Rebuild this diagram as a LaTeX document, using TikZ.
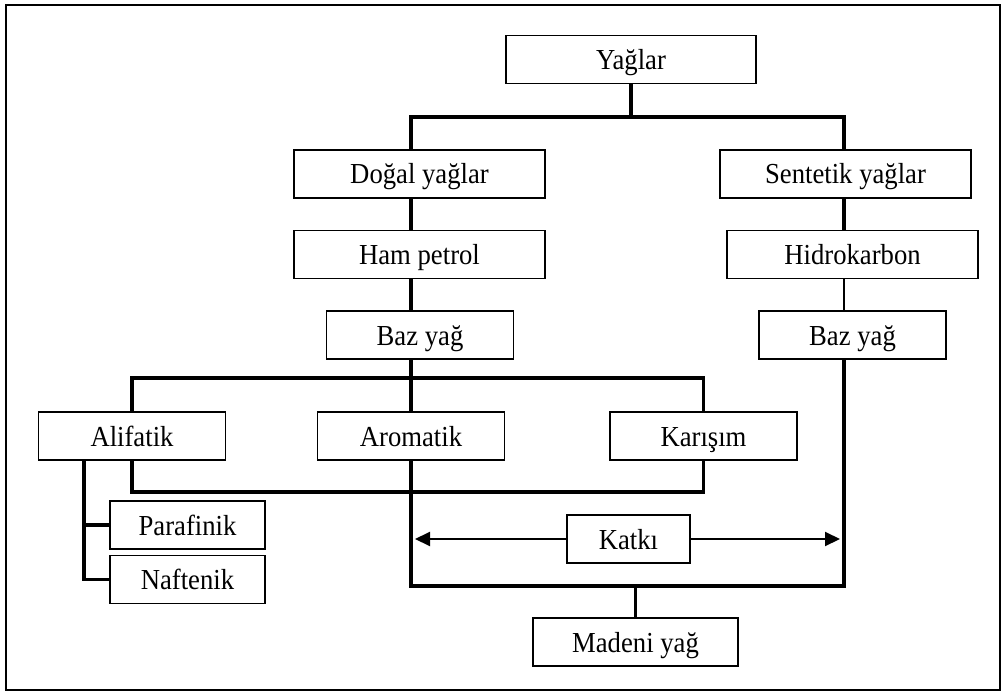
\documentclass[tikz,border=0pt]{standalone}
\usepackage{fontspec}
\setmainfont{Liberation Serif}[FakeStretch=0.92]
\usetikzlibrary{arrows.meta,positioning,calc}

\begin{document}
\begin{tikzpicture}[
      x=1pt, y=-1pt,
      every node/.style={font=\fontsize{29}{32}\selectfont},
      box/.style={draw, line width=1.8pt, minimum height=48pt, inner sep=0pt,
                  text height=20pt, text depth=0pt, align=center},
      wide/.style={box, minimum width=251pt},
      mid/.style={box, minimum width=187pt},
      small/.style={box, minimum width=155pt},
      conn/.style={line width=3.2pt},
      thin/.style={line width=2pt},
      arr/.style={-{Triangle[length=15pt, width=14pt]}, line width=2pt, shorten >=4pt}
  ]
    \useasboundingbox (0,0) rectangle (1006,695);
    \draw[line width=1.8pt] (6,5) rectangle (1000,690);

    \node[box, minimum width=250pt] (yaglar) at (631,59.5) {Yağlar};
    \node[wide] (dogal)       at (419.5,174)   {Doğal yağlar};
    \node[wide] (sentetik)    at (845.5,174)   {Sentetik yağlar};
    \node[wide] (hampetrol)   at (419.5,254.5) {Ham petrol};
    \node[wide] (hidrokarbon) at (852.5,254.5) {Hidrokarbon};
    \node[mid]  (bazsol)      at (420,335)     {Baz yağ};
    \node[mid]  (bazsag)      at (852.5,335)   {Baz yağ};
    \node[mid]  (alifatik)    at (132,436)     {Alifatik};
    \node[mid]  (aromatik)    at (411,436)     {Aromatik};
    \node[mid]  (karisim)     at (703.5,436)   {Karışım};
    \node[small] (parafinik)  at (187.5,525)   {Parafinik};
    \node[small] (naftenik)   at (187.5,579.5) {Naftenik};
    \node[box, minimum width=123pt] (katki)  at (628.5,539) {Katkı};
    \node[box, minimum width=205pt] (madeni) at (635.5,642) {Madeni yağ};

    % columns and bar levels
    \coordinate (sol) at (411,0);
    \coordinate (sag) at (844,0);
    \coordinate (kol) at (84,0);
    \coordinate (ust) at (0,117);
    \coordinate (orta) at (0,378);
    \coordinate (alt) at (0,492);
    \coordinate (dip) at (0,586);

    \draw[conn] (yaglar.south) -- (yaglar.south |- ust);
    \draw[conn] (dogal.north -| sol) -- (sol |- ust) -- (sag |- ust) -- (sentetik.north -| sag);
    \draw[conn] (dogal.south -| sol) -- (hampetrol.north -| sol);
    \draw[conn] (hampetrol.south -| sol) -- (bazsol.north -| sol);
    \draw[conn] (sentetik.south -| sag) -- (hidrokarbon.north -| sag);
    \draw[thin] (hidrokarbon.south -| sag) -- (bazsag.north -| sag);

    \draw[conn] (bazsol.south -| sol) -- (sol |- orta);
    \draw[conn] (alifatik.north) -- (alifatik.north |- orta) -- (karisim.north |- orta) -- (karisim.north);
    \draw[conn] (sol |- orta) -- (aromatik.north);
    \draw[conn] (alifatik.south) -- (alifatik.south |- alt) -- (karisim.south |- alt) -- (karisim.south);

    \draw[conn] (alifatik.south -| kol) |- (naftenik.west);
    \draw[conn] (parafinik.west) -- (parafinik.west -| kol);

    \draw[conn] (aromatik.south) -- (aromatik.south |- dip) -- (sag |- dip) -- (bazsag.south -| sag);
    \draw[arr] (katki.west) -- (katki.west -| aromatik.south);
    \draw[arr] (katki.east) -- (katki.east -| sag);
    \draw[conn] (madeni.north) -- (madeni.north |- dip);
  \end{tikzpicture}
\end{document}
